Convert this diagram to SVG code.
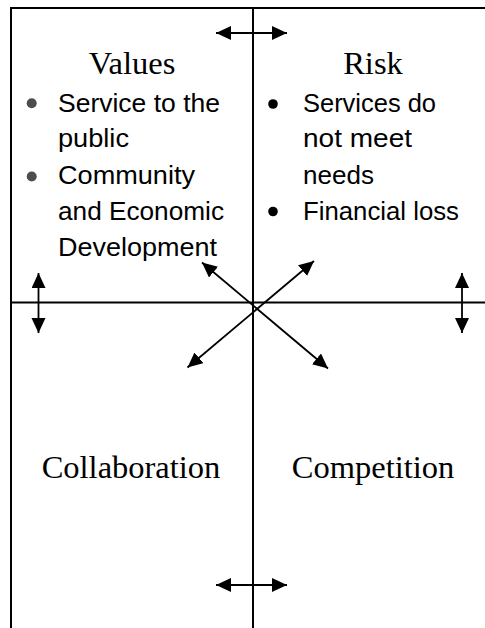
<svg xmlns="http://www.w3.org/2000/svg" width="485" height="628" viewBox="0 0 485 628">
<style>
.frame{stroke:#000;stroke-width:2;fill:none}
.title{font-family:"Liberation Serif","Times New Roman",serif;font-size:32.5px;fill:#000;text-anchor:middle}
.item{font-family:"Liberation Sans",Arial,sans-serif;font-size:26px;fill:#000}
.arrow{stroke:#000;stroke-width:1.8;fill:none;marker-start:url(#ah);marker-end:url(#ah)}
</style>
<defs>
<marker id="ah" markerUnits="userSpaceOnUse" markerWidth="16" markerHeight="15" refX="15" refY="7" orient="auto-start-reverse" viewBox="0 0 16 15">
<path d="M0,0 L15,7 L0,14 z" fill="#000"/>
</marker>
</defs>
<rect width="485" height="628" fill="#fff"/>
<g id="frame" class="frame">
<path d="M11,628 V8 H485"/>
<path d="M11,302.5 H485"/>
<path d="M253,8 V628"/>
</g>
<g id="values">
<text class="title" x="132" y="74">Values</text>
<circle cx="31.7" cy="103.3" r="5" fill="#4d4d4d"/>
<circle cx="31.7" cy="176.5" r="5" fill="#4d4d4d"/>
<text class="item" x="58" y="112" textLength="162" lengthAdjust="spacingAndGlyphs">Service to the</text>
<text class="item" x="58" y="147" textLength="71" lengthAdjust="spacingAndGlyphs">public</text>
<text class="item" x="58" y="184" textLength="137" lengthAdjust="spacingAndGlyphs">Community</text>
<text class="item" x="58" y="220" textLength="166" lengthAdjust="spacingAndGlyphs">and Economic</text>
<text class="item" x="58" y="256" textLength="159" lengthAdjust="spacingAndGlyphs">Development</text>
</g>
<g id="risk">
<text class="title" x="373" y="74">Risk</text>
<circle cx="273" cy="104" r="4.8" fill="#000"/>
<circle cx="273" cy="211.5" r="4.8" fill="#000"/>
<text class="item" x="303" y="112" textLength="133" lengthAdjust="spacingAndGlyphs">Services do</text>
<text class="item" x="303" y="147" textLength="109" lengthAdjust="spacingAndGlyphs">not meet</text>
<text class="item" x="303" y="184" textLength="71" lengthAdjust="spacingAndGlyphs">needs</text>
<text class="item" x="303" y="220" textLength="156" lengthAdjust="spacingAndGlyphs">Financial loss</text>
</g>
<g id="collaboration">
<text class="title" x="131" y="478">Collaboration</text>
</g>
<g id="competition">
<text class="title" x="373" y="478">Competition</text>
</g>
<g id="connectors">
<line class="arrow" x1="216" y1="33" x2="287" y2="33"/>
<line class="arrow" x1="216" y1="585" x2="287" y2="585"/>
<line class="arrow" x1="38.5" y1="273" x2="38.5" y2="333"/>
<line class="arrow" x1="462" y1="273" x2="462" y2="333"/>
<line class="arrow" x1="202" y1="262.5" x2="328" y2="368.5"/>
<line class="arrow" x1="314" y1="261" x2="187.5" y2="367.5"/>
</g>
</svg>
